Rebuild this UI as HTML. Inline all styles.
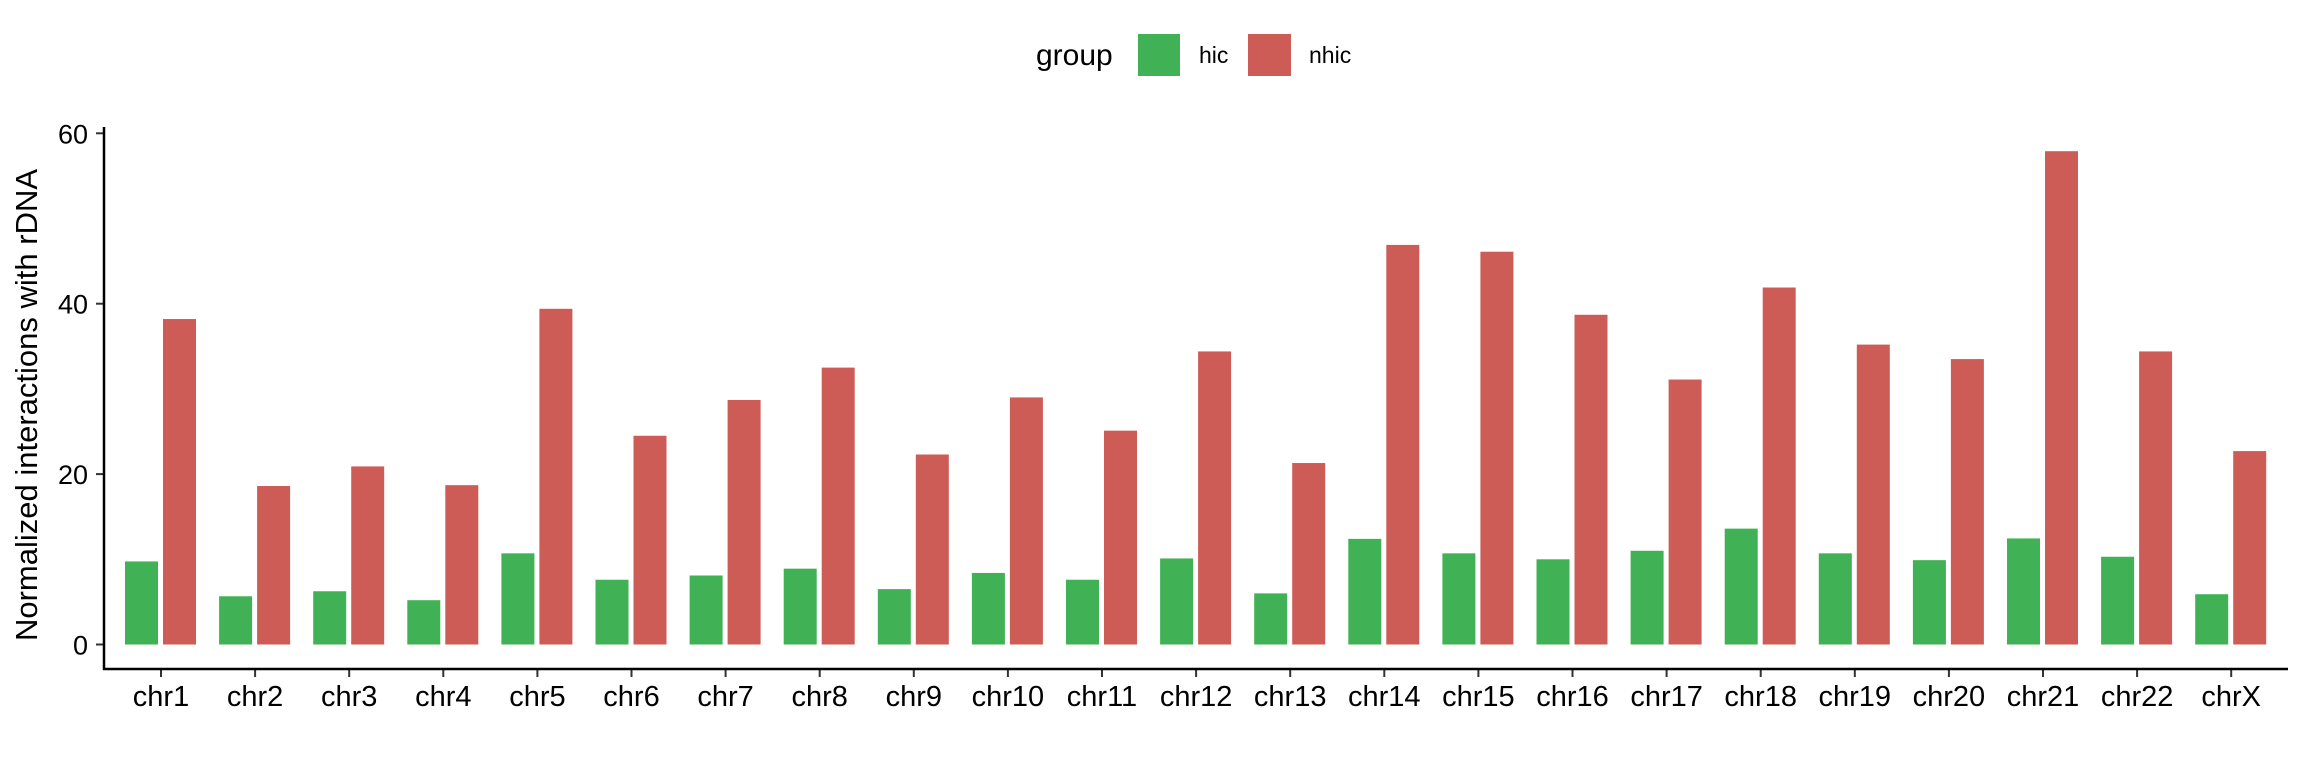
<!DOCTYPE html>
<html><head><meta charset="utf-8"><style>
html,body{margin:0;padding:0;background:#fff;}
svg{display:block;font-family:"Liberation Sans",Arial,sans-serif;}
</style></head><body>
<svg id="chart" width="2304" height="768" viewBox="0 0 2304 768" xmlns="http://www.w3.org/2000/svg">
  <g id="legend">
    <text x="1036" y="65" font-size="30" fill="#000">group</text>
    <rect x="1138" y="34" width="42" height="42" fill="#41b155"/>
    <text x="1199" y="63" font-size="23" fill="#000">hic</text>
    <rect x="1248" y="34" width="43" height="42" fill="#cd5c57"/>
    <text x="1309" y="63" font-size="23" fill="#000">nhic</text>
  </g>
  <text transform="translate(37,405) rotate(-90)" text-anchor="middle" font-size="31" fill="#000">Normalized interactions with rDNA</text>
  <g id="bars"></g>
  <g id="axes"></g>
</svg>
<script>
const categories = ["chr1","chr2","chr3","chr4","chr5","chr6","chr7","chr8","chr9","chr10","chr11","chr12","chr13","chr14","chr15","chr16","chr17","chr18","chr19","chr20","chr21","chr22","chrX"];
const hicValues = [9.75,5.66,6.25,5.2,10.7,7.6,8.1,8.9,6.5,8.4,7.6,10.1,6.0,12.4,10.7,10.0,11.0,13.6,10.7,9.9,12.45,10.3,5.9];
const nhicValues = [38.2,18.6,20.9,18.7,39.4,24.5,28.7,32.5,22.3,29.0,25.1,34.4,21.3,46.9,46.1,38.7,31.1,41.9,35.2,33.5,57.9,34.4,22.7];
const yTicks = [0,20,40,60];

const NS = "http://www.w3.org/2000/svg";
const y0 = 644.5, pxPerUnit = (644.5 - 133.3) / 60;
function yScale(v){ return y0 - v * pxPerUnit; }
function xScale(i){ return 161 + i * 94.1; }
const barW = 33;
const bars = document.getElementById('bars');
const axes = document.getElementById('axes');
function mk(tag, attrs, parent){
  const el = document.createElementNS(NS, tag);
  for (const k in attrs) el.setAttribute(k, attrs[k]);
  parent.appendChild(el);
  return el;
}
categories.forEach((c, i) => {
  const cx = xScale(i);
  const g = mk('rect', {x: cx - 36, y: yScale(hicValues[i]), width: barW, height: y0 - yScale(hicValues[i]), fill: '#41b155'}, bars);
  
  
  const r = mk('rect', {x: cx + 2, y: yScale(nhicValues[i]), width: barW, height: y0 - yScale(nhicValues[i]), fill: '#cd5c57'}, bars);
  
  
  const t = mk('line', {x1: cx, x2: cx, y1: 669, y2: 677, stroke: '#333', 'stroke-width': 2}, axes);
  
  
  const lb = mk('text', {x: cx, y: 706, 'text-anchor': 'middle', 'font-size': 29, fill: '#000'}, axes);
  lb.textContent = c;
  
  
});
yTicks.forEach(v => {
  const yy = yScale(v);
  const t = mk('line', {x1: 96, x2: 104, y1: yy, y2: yy, stroke: '#333', 'stroke-width': 2}, axes);
  
  
  const lb = mk('text', {x: 88, y: yy + 10, 'text-anchor': 'end', 'font-size': 27, fill: '#000'}, axes);
  lb.textContent = v;
  
  
});
const ya = mk('line', {x1: 104, x2: 104, y1: 127, y2: 670, stroke: '#000', 'stroke-width': 2.5}, axes);


const xa = mk('line', {x1: 103, x2: 2288, y1: 669, y2: 669, stroke: '#000', 'stroke-width': 2.5}, axes);


</script>
</body></html>
